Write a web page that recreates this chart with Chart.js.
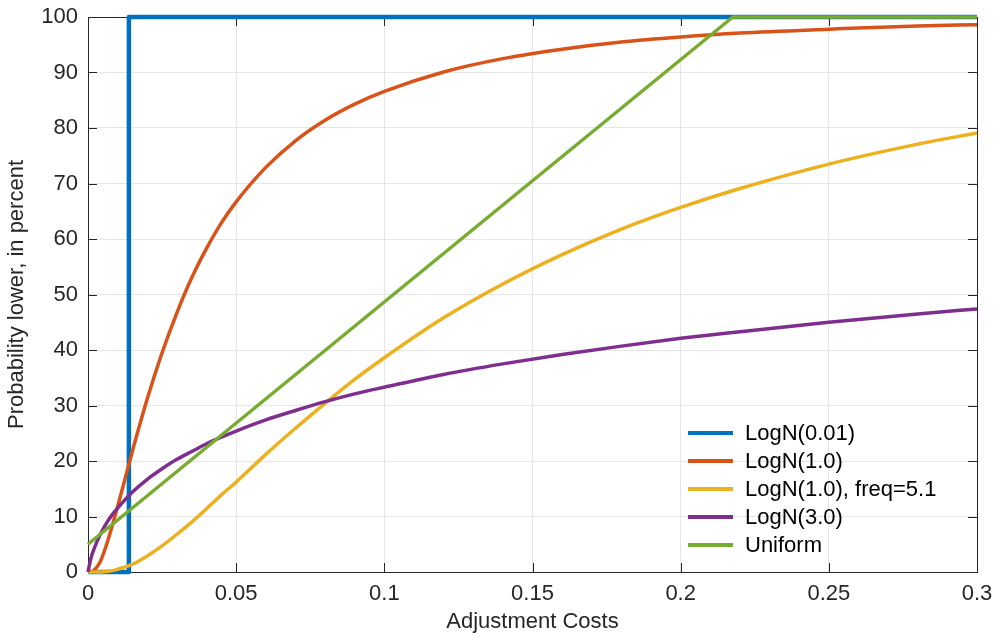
<!DOCTYPE html>
<html>
<head>
<meta charset="utf-8">
<script src="https://cdn.jsdelivr.net/npm/chart.js@4/dist/chart.umd.min.js"></script>
<style>
  html, body { margin: 0; padding: 0; background: #ffffff; }
  #wrap { width: 996px; height: 635px; }
</style>
</head>
<body>
<div id="wrap"><canvas id="grafico" width="996" height="635"></canvas></div>
<script>
// Datos
const etiquetas = ['LogN(0.01)', 'LogN(1.0)', 'LogN(1.0), freq=5.1', 'LogN(3.0)', 'Uniform'];
const colores = ['#0072BD', '#D95319', '#EDB120', '#7E2F8E', '#77AC30'];

const xTicks = [0, 0.05, 0.1, 0.15, 0.2, 0.25, 0.3];
const xTickLabels = ['0', '0.05', '0.1', '0.15', '0.2', '0.25', '0.3'];
const yTicks = [0, 10, 20, 30, 40, 50, 60, 70, 80, 90, 100];

// LogN(0.01): salto casi vertical
const costosAzul = [0, 0.0135, 0.0138, 0.3];
const probAzul   = [0, 0, 100, 100];

// rejilla común para las tres curvas suaves
const costos = [0, 0.001, 0.002, 0.004, 0.006, 0.008, 0.01, 0.015, 0.02, 0.025, 0.03, 0.035, 0.04, 0.045,
                0.05, 0.06, 0.07, 0.08, 0.09, 0.1, 0.12, 0.14, 0.16, 0.18, 0.2, 0.22, 0.25, 0.28, 0.3];
const probNaranja = [0, 0, 0.3, 1.7, 4.5, 8.0, 11.8, 21.8, 31.2, 39.5, 46.7, 53.0, 58.3, 62.9,
                     66.7, 72.9, 77.7, 81.4, 84.3, 86.6, 90.1, 92.5, 94.2, 95.5, 96.4, 97.1, 97.8, 98.4, 98.6];
const probAmarillo = [0, 0, 0, 0, 0.1, 0.2, 0.5, 1.4, 2.9, 4.7, 6.8, 9.0, 11.4, 13.9,
                      16.2, 21.2, 25.9, 30.4, 34.7, 38.6, 45.8, 51.9, 57.2, 61.8, 65.7, 69.1, 73.5, 77.1, 79.1];
const probMorado = [0, 2.5, 4.1, 6.6, 8.6, 10.2, 11.5, 14.4, 16.7, 18.6, 20.3, 21.7, 23.1, 24.3,
                    25.4, 27.4, 29.1, 30.7, 32.1, 33.3, 35.6, 37.5, 39.2, 40.7, 42.1, 43.3, 45.0, 46.5, 47.4];

// Uniform: recta hasta 100 y luego plana
const costosVerde = [0, 0.2176, 0.3];
const probVerde   = [5, 100, 100];

function puntos(xs, ys) {
    return xs.map((x, i) => ({ x: x, y: ys[i] }));
}

const fuente = "'Liberation Sans', Arial, Helvetica, sans-serif";
const colorEje = '#262626';
const tamLetra = 22;

// Caja del eje y marcas hacia dentro (estilo MATLAB)
const cajaEjes = {
    id: 'cajaEjes',
    beforeDatasetsDraw(chart) {
        const { ctx, chartArea: a, scales } = chart;
        const largo = 9;
        ctx.save();
        ctx.strokeStyle = colorEje;
        ctx.lineWidth = 1;
        ctx.beginPath();
        xTicks.forEach(v => {
            const px = Math.round(scales.x.getPixelForValue(v)) + 0.5;
            ctx.moveTo(px, a.bottom); ctx.lineTo(px, a.bottom - largo);
            ctx.moveTo(px, a.top); ctx.lineTo(px, a.top + largo);
        });
        yTicks.forEach(v => {
            const py = Math.round(scales.y.getPixelForValue(v)) + 0.5;
            ctx.moveTo(a.left, py); ctx.lineTo(a.left + largo, py);
            ctx.moveTo(a.right, py); ctx.lineTo(a.right - largo, py);
        });
        ctx.stroke();
        ctx.strokeRect(Math.round(a.left) + 0.5, Math.round(a.top) + 0.5,
                       Math.round(a.width), Math.round(a.height));
        ctx.restore();
    }
};

// Leyenda dentro del área, abajo a la derecha, sin marco
const leyendaInterna = {
    id: 'leyendaInterna',
    afterDatasetsDraw(chart) {
        const { ctx, chartArea: a } = chart;
        const x0 = a.right - 289;
        const yUltima = a.bottom - 27;
        const paso = 28;
        const n = chart.data.datasets.length;
        ctx.save();
        ctx.font = tamLetra + "px " + fuente;
        ctx.textBaseline = 'middle';
        ctx.textAlign = 'left';
        chart.data.datasets.forEach((ds, i) => {
            const y = yUltima - (n - 1 - i) * paso;
            ctx.strokeStyle = ds.borderColor;
            ctx.lineWidth = 4;
            ctx.beginPath();
            ctx.moveTo(x0, y); ctx.lineTo(x0 + 45, y);
            ctx.stroke();
            ctx.fillStyle = '#000000';
            ctx.fillText(ds.label, x0 + 57, y + 1);
        });
        ctx.restore();
    }
};

// quitar el relleno automático que Chart.js añade por las etiquetas
function sinRelleno(s) {
    s.paddingTop = 0; s.paddingBottom = 0;
    s.paddingLeft = 0; s.paddingRight = 0;
}

const series = [
    puntos(costosAzul, probAzul),
    puntos(costos, probNaranja),
    puntos(costos, probAmarillo),
    puntos(costos, probMorado),
    puntos(costosVerde, probVerde)
];

const ctx = document.getElementById('grafico').getContext('2d');
new Chart(ctx, {
    type: 'line',
    data: {
        datasets: series.map((datos, i) => ({
            label: etiquetas[i],
            data: datos,
            borderColor: colores[i],
            backgroundColor: colores[i],
            borderWidth: i === 0 ? 4.5 : 3.5,
            pointRadius: 0,
            fill: false,
            clip: 4,
            borderJoinStyle: 'round',
            cubicInterpolationMode: (i >= 1 && i <= 3) ? 'monotone' : 'default',
            tension: 0,
            order: series.length - i
        }))
    },
    options: {
        responsive: false,
        animation: false,
        events: [],
        layout: { padding: { top: 17, right: 19, left: 0, bottom: 0 } },
        plugins: {
            legend: { display: false },
            tooltip: { enabled: false }
        },
        scales: {
            x: {
                type: 'linear',
                min: 0,
                max: 0.3,
                afterBuildTicks: s => { s.ticks = xTicks.map(v => ({ value: v })); },
                afterFit: s => { s.height = 63; sinRelleno(s); },
                grid: { color: '#e6e6e6', drawTicks: false },
                border: { display: false },
                ticks: {
                    padding: 9,
                    color: colorEje,
                    font: { family: fuente, size: tamLetra },
                    maxRotation: 0,
                    callback: (v, i) => xTickLabels[i]
                },
                title: {
                    display: true,
                    text: 'Adjustment Costs',
                    color: colorEje,
                    font: { family: fuente, size: tamLetra },
                    padding: { top: 0, bottom: 0 }
                }
            },
            y: {
                min: 0,
                max: 100,
                afterBuildTicks: s => { s.ticks = yTicks.map(v => ({ value: v })); },
                afterFit: s => { s.width = 88; sinRelleno(s); },
                grid: { color: '#e6e6e6', drawTicks: false },
                border: { display: false },
                ticks: {
                    padding: 10,
                    color: colorEje,
                    font: { family: fuente, size: tamLetra }
                },
                title: {
                    display: true,
                    text: 'Probability lower, in percent',
                    color: colorEje,
                    font: { family: fuente, size: tamLetra },
                    padding: { top: 4, bottom: 0 }
                }
            }
        }
    },
    plugins: [cajaEjes, leyendaInterna]
});
</script>
</body>
</html>
